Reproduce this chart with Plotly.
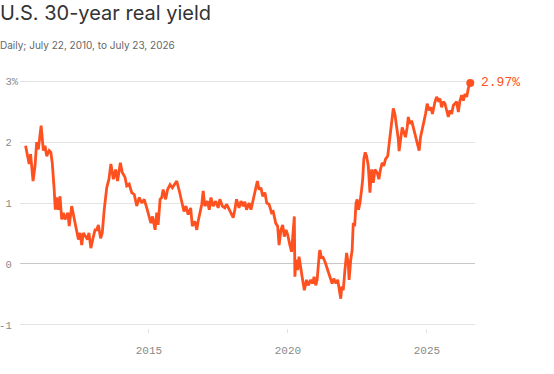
import plotly.graph_objects as go

# decimal years and real yield (%)
years = [
    2010.56, 2010.69, 2010.74, 2010.83, 2010.90, 2010.96, 2011.02, 2011.12, 2011.20, 2011.26,
    2011.32, 2011.41, 2011.47, 2011.52, 2011.59, 2011.63, 2011.68, 2011.74, 2011.80, 2011.86,
    2011.92, 2011.98, 2012.08, 2012.13, 2012.22, 2012.31, 2012.40, 2012.46, 2012.52, 2012.58,
    2012.64, 2012.71, 2012.79, 2012.84, 2012.91, 2013.00, 2013.06, 2013.12, 2013.18, 2013.26,
    2013.32, 2013.39, 2013.48, 2013.56, 2013.63, 2013.72, 2013.80, 2013.87, 2013.97, 2014.04,
    2014.14, 2014.20, 2014.29, 2014.38, 2014.47, 2014.56, 2014.65, 2014.74, 2014.83, 2014.92,
    2014.97, 2015.07, 2015.13, 2015.22, 2015.28, 2015.33, 2015.40, 2015.46, 2015.51, 2015.60,
    2015.67, 2015.76, 2015.84, 2015.92, 2016.00, 2016.09, 2016.18, 2016.26, 2016.33, 2016.41,
    2016.50, 2016.56, 2016.65, 2016.72, 2016.77, 2016.83, 2016.90, 2016.95, 2017.01, 2017.10,
    2017.17, 2017.23, 2017.31, 2017.40, 2017.49, 2017.55, 2017.64, 2017.73, 2017.79, 2017.89,
    2017.97, 2018.03, 2018.09, 2018.15, 2018.24, 2018.31, 2018.39, 2018.45, 2018.51, 2018.60,
    2018.67, 2018.75, 2018.84, 2018.90, 2018.96, 2019.03, 2019.09, 2019.17, 2019.24, 2019.32,
    2019.41, 2019.47, 2019.56, 2019.63, 2019.68, 2019.75, 2019.81, 2019.87, 2019.93, 2019.99,
    2020.07, 2020.13, 2020.23, 2020.25, 2020.29, 2020.35, 2020.40, 2020.46, 2020.51, 2020.59,
    2020.67, 2020.73, 2020.82, 2020.89, 2020.94, 2021.00, 2021.05, 2021.13, 2021.15, 2021.21,
    2021.25, 2021.33, 2021.39, 2021.45, 2021.54, 2021.59, 2021.65, 2021.73, 2021.79, 2021.85,
    2021.90, 2021.94, 2021.99, 2022.05, 2022.11, 2022.17, 2022.20, 2022.26, 2022.31, 2022.35,
    2022.40, 2022.45, 2022.49, 2022.54, 2022.59, 2022.65, 2022.69, 2022.73, 2022.78, 2022.83,
    2022.89, 2022.95, 2023.01, 2023.07, 2023.13, 2023.21, 2023.27, 2023.33, 2023.39, 2023.45,
    2023.51, 2023.59, 2023.64, 2023.69, 2023.74, 2023.79, 2023.85, 2023.91, 2023.97, 2024.00,
    2024.06, 2024.11, 2024.17, 2024.23, 2024.29, 2024.33, 2024.39, 2024.45, 2024.51, 2024.57,
    2024.63, 2024.69, 2024.72, 2024.77, 2024.83, 2024.89, 2024.95, 2025.01, 2025.07, 2025.14,
    2025.20, 2025.29, 2025.35, 2025.41, 2025.47, 2025.53, 2025.59, 2025.65, 2025.71, 2025.77,
    2025.83, 2025.89, 2025.95, 2026.01, 2026.07, 2026.13, 2026.19, 2026.25, 2026.31, 2026.37,
    2026.43, 2026.49, 2026.56,
]
yields = [
    1.94, 1.64, 1.80, 1.36, 1.61, 2.00, 1.88, 2.27, 1.86, 1.94,
    1.77, 1.86, 1.83, 1.66, 1.22, 0.89, 1.09, 0.89, 1.11, 0.73,
    0.84, 0.73, 0.84, 0.62, 0.95, 0.73, 0.56, 0.40, 0.51, 0.31,
    0.51, 0.45, 0.40, 0.51, 0.26, 0.45, 0.56, 0.56, 0.64, 0.42,
    0.51, 0.89, 1.25, 1.39, 1.64, 1.39, 1.55, 1.36, 1.66, 1.50,
    1.42, 1.28, 1.31, 1.17, 1.14, 0.95, 1.09, 1.00, 1.06, 0.92,
    0.84, 0.67, 0.78, 0.56, 0.84, 0.64, 1.06, 1.09, 1.22, 1.06,
    1.22, 1.30, 1.25, 1.30, 1.36, 1.20, 1.03, 0.86, 0.95, 0.81,
    0.92, 0.62, 0.70, 0.56, 0.70, 0.81, 0.98, 1.20, 0.95, 1.03,
    0.89, 1.09, 0.95, 1.03, 0.92, 1.06, 0.95, 0.92, 0.98, 0.89,
    0.81, 0.76, 0.89, 1.06, 0.92, 1.03, 0.95, 1.02, 0.89, 1.00,
    0.89, 1.06, 1.28, 1.36, 1.22, 1.25, 1.11, 1.17, 1.00, 0.98,
    0.84, 0.86, 0.67, 0.62, 0.31, 0.56, 0.64, 0.45, 0.56, 0.48,
    0.31, 0.20, 0.78, -0.21, 0.07, -0.10, 0.12, -0.10, -0.21, -0.43,
    -0.26, -0.35, -0.26, -0.32, -0.21, -0.35, -0.26, 0.18, 0.23, 0.09,
    0.12, 0.04, -0.04, -0.15, -0.26, -0.32, -0.24, -0.32, -0.26, -0.43,
    -0.57, -0.37, -0.43, -0.10, 0.18, 0.01, -0.26, 0.07, 0.23, 0.67,
    0.62, 1.00, 1.06, 0.89, 1.00, 1.22, 1.39, 1.72, 1.83, 1.77,
    1.61, 1.17, 1.55, 1.33, 1.55, 1.50, 1.39, 1.55, 1.66, 1.61,
    1.72, 1.77, 1.99, 2.10, 2.33, 2.55, 2.45, 2.24, 2.05, 1.85,
    2.13, 2.24, 2.16, 2.08, 2.24, 2.41, 2.30, 2.35, 2.24, 2.13,
    2.02, 1.91, 1.86, 2.08, 2.19, 2.35, 2.46, 2.63, 2.52, 2.57,
    2.46, 2.66, 2.74, 2.68, 2.71, 2.57, 2.66, 2.63, 2.52, 2.41,
    2.52, 2.46, 2.60, 2.63, 2.66, 2.49, 2.68, 2.77, 2.68, 2.79,
    2.74, 2.88, 2.97,
]

x_tick_vals = [2015, 2020, 2025]
x_tick_text = ["2015", "2020", "2025"]
y_tick_vals = [-1, 0, 1, 2, 3]
y_tick_text = ["-1\u00a0", "0\u00a0", "1\u00a0", "2\u00a0", "3%"]

title = "U.S. 30-year real yield"
subtitle = "Daily; July 22, 2010, to July 23, 2026"
end_label = "2.97%"

ORANGE = "#FF5020"
MONO = "Liberation Mono, DejaVu Sans Mono, monospace"

fig = go.Figure()
fig.add_trace(go.Scatter(
    x=years, y=yields, mode="lines",
    line=dict(color=ORANGE, width=2.8),
    hoverinfo="skip", showlegend=False,
))
fig.add_trace(go.Scatter(
    x=[years[-1]], y=[yields[-1]], mode="markers",
    marker=dict(color=ORANGE, size=8),
    cliponaxis=False, hoverinfo="skip", showlegend=False,
))

fig.add_annotation(
    x=years[-1], y=yields[-1], xref="x", yref="y",
    text=end_label, showarrow=False, xanchor="left", yanchor="middle",
    xshift=9, font=dict(family=MONO, size=13, color=ORANGE),
)
fig.add_annotation(
    x=0, y=1, xref="paper", yref="paper", xanchor="left", yanchor="top",
    text=title, showarrow=False, xshift=-22, yshift=79,
    font=dict(family="Inter, Open Sans, sans-serif", size=20, color="#333333"),
)
fig.add_annotation(
    x=0, y=1, xref="paper", yref="paper", xanchor="left", yanchor="top",
    text=subtitle, showarrow=False, xshift=-22, yshift=41,
    font=dict(family="Inter, Open Sans, sans-serif", size=10, color="#666666"),
)

fig.update_layout(
    width=554, height=374,
    margin=dict(l=20, r=79, t=78, b=46),
    paper_bgcolor="white", plot_bgcolor="white",
    xaxis=dict(
        range=[2010.36, 2026.73], tickvals=x_tick_vals, ticktext=x_tick_text,
        showgrid=False, zeroline=False, showline=False, automargin=False,
        ticks="outside", ticklen=4, tickcolor="#e3e3e3", tickwidth=1,
        tickfont=dict(family=MONO, size=11, color="#8a8a8a"),
        ticklabelstandoff=8,
    ),
    yaxis=dict(
        range=[-1.05, 3.05], tickvals=y_tick_vals, ticktext=y_tick_text,
        showgrid=True, gridcolor="#e3e3e3", gridwidth=1,
        zeroline=True, zerolinecolor="#c8c8c8", zerolinewidth=1.2,
        showline=False, ticks="", automargin=False,
        tickfont=dict(family=MONO, size=10.5, color="#8a8a8a"),
        ticklabelstandoff=1,
    ),
)

fig.write_html("out.html")
